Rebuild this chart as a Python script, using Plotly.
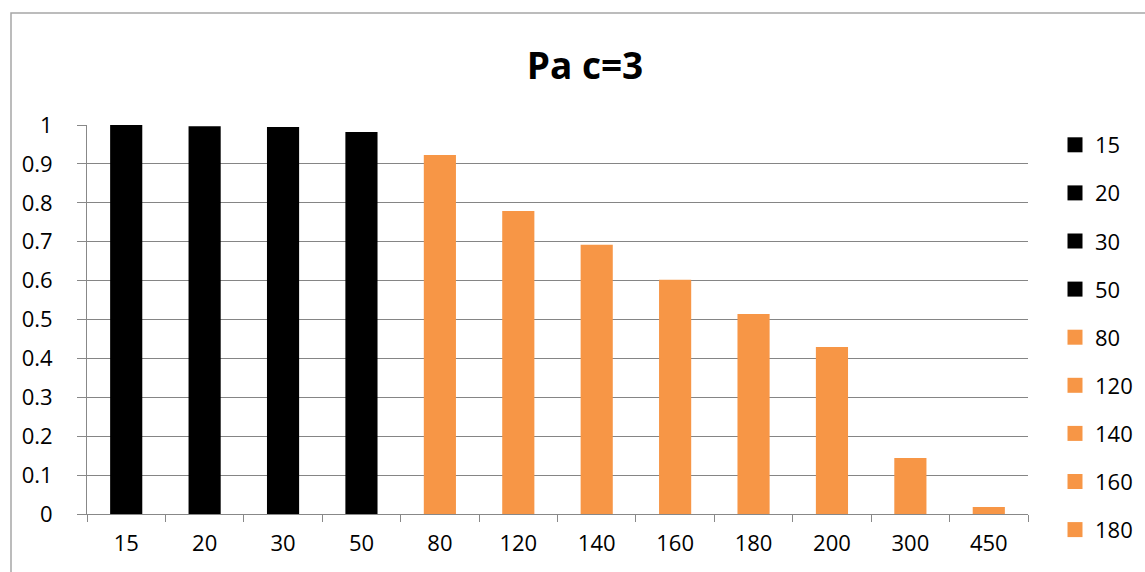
import plotly.graph_objects as go

categories = ["15", "20", "30", "50", "80", "120", "140", "160", "180", "200", "300", "450"]
values = [1.0, 0.997, 0.995, 0.982, 0.923, 0.779, 0.692, 0.602, 0.514, 0.429, 0.144, 0.018]
colors = ["#000000"] * 4 + ["#F79646"] * 8
legend_shown = [True] * 9 + [False] * 3
title = "Pa c=3"
y_ticks = [0, 0.1, 0.2, 0.3, 0.4, 0.5, 0.6, 0.7, 0.8, 0.9, 1]
y_tick_labels = ["0", "0.1", "0.2", "0.3", "0.4", "0.5", "0.6", "0.7", "0.8", "0.9", "1"]

FONT = "'Open Sans', Lato, sans-serif"

fig = go.Figure()
for i, (c, v, col, show) in enumerate(zip(categories, values, colors, legend_shown)):
    fig.add_trace(go.Bar(
        x=[c], y=[v], name=c, marker=dict(color=col, line=dict(width=0)),
        width=0.41, showlegend=False, legendgroup=f"g{i}",
    ))
    # legend entry with a larger square swatch, linked to the bar above
    fig.add_trace(go.Scatter(
        x=[None], y=[None], name=c, mode="markers",
        marker=dict(symbol="square", size=15, color=col),
        showlegend=show, legendgroup=f"g{i}", hoverinfo="skip",
    ))

W, H = 1145, 572
L, R, T, B = 87, 117, 125, 58
pw, ph = W - L - R, H - T - B

def px_to_paper_x(px):
    return (px - L) / pw

def px_to_paper_y(py):
    return (H - B - py) / ph

fig.update_layout(
    width=W, height=H,
    margin=dict(l=L, r=R, t=T, b=B, autoexpand=False),
    paper_bgcolor="white", plot_bgcolor="white",
    barmode="overlay",
    font=dict(family=FONT, size=22, color="#000000"),
    title=dict(text="<b>" + title + "</b>", x=585 / W, xref="container",
               xanchor="center", y=1 - 66 / H, yref="container", yanchor="middle",
               font=dict(size=37, family=FONT, color="#000000")),
    xaxis=dict(
        type="category", categoryorder="array", categoryarray=categories,
        showgrid=False, showline=True, linecolor="#888888", linewidth=1,
        ticks="outside", tickson="boundaries", ticklen=7, tickcolor="#888888",
        tickfont=dict(size=22, family=FONT), range=[-0.5, len(categories) - 0.5],
        ticklabelstandoff=10,
    ),
    yaxis=dict(
        range=[0, 1], tickvals=y_ticks, ticktext=y_tick_labels,
        showgrid=True, gridcolor="#858585", gridwidth=1.4,
        showline=True, linecolor="#888888", linewidth=1,
        ticks="outside", ticklen=9, tickcolor="#888888",
        tickfont=dict(size=22, family=FONT), zeroline=False,
        ticklabelstandoff=20,
    ),
    legend=dict(
        x=1055 / W, xref="container", xanchor="left",
        y=1 - 124 / H, yref="container", yanchor="top",
        font=dict(size=22, family=FONT), tracegroupgap=16.5,
        itemwidth=30, bgcolor="rgba(0,0,0,0)", maxheight=1000,
    ),
    shapes=[dict(
        type="rect", xref="paper", yref="paper",
        x0=px_to_paper_x(11), x1=px_to_paper_x(1160),
        y0=px_to_paper_y(590), y1=px_to_paper_y(13),
        line=dict(color="#a6a6a6", width=1.5), fillcolor="rgba(0,0,0,0)",
        layer="below",
    )],
)

fig.write_html("out.html")
